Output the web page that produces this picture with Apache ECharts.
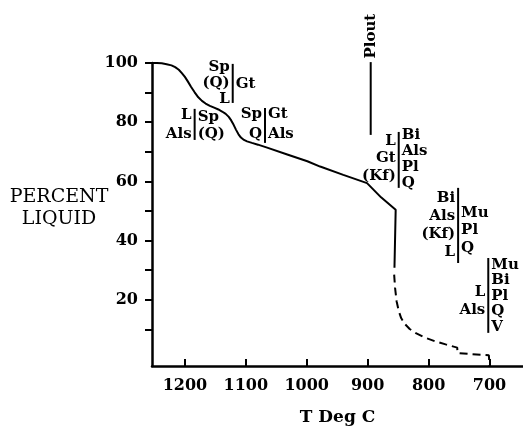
<!DOCTYPE html>
<html><head><meta charset="utf-8">
<script src="https://cdn.jsdelivr.net/npm/echarts@6/dist/echarts.min.js"></script>
<style>html,body{margin:0;padding:0;background:#fff}#c{width:523px;height:427px}</style>
</head><body><div id="c"></div>
<script>
// ---- data ----
const xTicks = [1200, 1100, 1000, 900, 800, 700];
const yLabelTicks = [20, 40, 60, 80, 100];
const yMinorTicks = [10, 20, 30, 40, 50, 60, 70, 80, 90, 100];
// solid part of the melting curve [T, percent liquid]
const solidCurve = [
  [1254,100],[1246,100],[1238,99.9],[1230,99.6],[1222,99.2],[1216,98.6],[1210,97.7],[1205,96.6],
  [1200,95.3],[1195,93.7],[1190,92.0],[1184,90.1],[1178,88.4],[1172,87.2],[1166,86.3],[1159,85.5],
  [1152,84.9],[1145,84.3],[1139,83.6],[1133,82.8],[1128,81.8],[1124,80.6],[1120,79.1],[1116,77.4],
  [1112,75.9],[1108,74.8],[1103,74.0],[1098,73.5],[1090,73.0],[1080,72.4],[1065,71.4],
  [1032,69.1],[999,66.8],[978,65.0],[940,62.2],[901,59.4],[878,54.6],[854,50.4],[856,30.8]
];
// dashed (extrapolated) part
const dashedCurve = [
  [856.5,28.5],[855,24],[852.5,19.5],[849,16.2],[845,13.8],[839,11.8],[831,10.1],[820,8.6],
  [806,7.2],[790,6.0],[772,4.9],[753,3.8],[752.5,2.0],[730,1.6],[701,1.2],[700,-2.4]
];
const ploutLine = [[895,100.3],[895,75.7]];
// assemblage annotation bars: T, top %, bottom %
const barT      = [1121.5, 1184, 1068.5, 849, 751.5, 702];
const barTop    = [99.7, 84.5, 84.8, 76.7, 57.8, 34.1];
const barBottom = [86.5, 74.0, 73.0, 57.8, 32.4, 8.8];
const leftLabels  = [['Sp','(Q)','L'], ['L','Als'], ['Sp','Q'], ['L','Gt','(Kf)'], ['Bi','Als','(Kf)','L'], ['L','Als']];
const rightLabels = [['Gt'], ['Sp','(Q)'], ['Gt','Als'], ['Bi','Als','Pl','Q'], ['Mu','Pl','Q'], ['Mu','Bi','Pl','Q','V']];

// ---- layout (px) ----
const leftOffset  = [3, 6, 6, 9, 10, 34];
const leftLH      = [16, 19, 20, 17.5, 18, 18];
const rightOffset = [20, 8, 6, 3, 25, 7];
const rightLH     = [16, 17, 20, 16, 17.5, 15.5];

const FONT = 'DejaVu Serif';
const chart = echarts.init(document.getElementById('c'), null, {renderer: 'canvas'});

function annoRender(params, api) {
  const i = params.dataIndex;
  const top = api.coord([api.value(0), api.value(1)]);
  const bot = api.coord([api.value(0), api.value(2)]);
  const x = top[0];
  const children = [{
    type: 'line',
    shape: {x1: x, y1: top[1], x2: x, y2: bot[1]},
    style: {stroke: '#000', lineWidth: 2}
  }];
  leftLabels[i].forEach((t, k) => {
    children.push({type: 'text', style: {
      text: t, x: x - 3, y: top[1] + leftOffset[i] + k * leftLH[i],
      align: 'right', verticalAlign: 'middle',
      font: 'bold 15px "' + FONT + '"', fill: '#000'}});
  });
  rightLabels[i].forEach((t, k) => {
    children.push({type: 'text', style: {
      text: t, x: x + 3, y: top[1] + rightOffset[i] + k * rightLH[i],
      align: 'left', verticalAlign: 'middle',
      font: 'bold 15px "' + FONT + '"', fill: '#000'}});
  });
  return {type: 'group', children};
}

function ploutRender(params, api) {
  const p = api.coord([api.value(0), api.value(1)]);
  return {type: 'text', rotation: Math.PI / 2, x: p[0], y: p[1] - 26,
    style: {text: 'Plout', align: 'center', verticalAlign: 'middle',
      font: 'bold 15px "' + FONT + '"', fill: '#000'}};
}

chart.setOption({
  animation: false,
  backgroundColor: '#fff',
  grid: {left: 152, right: 0, top: 63, bottom: 61, containLabel: false, outerBoundsMode: 'none'},
  xAxis: {
    type: 'value', inverse: true, min: 645, max: 1254,
    name: 'T Deg C', nameLocation: 'middle', nameGap: 43,
    nameTextStyle: {fontFamily: FONT, fontWeight: 'bold', fontSize: 17, color: '#000'},
    axisLine: {show: true, onZero: false, lineStyle: {color: '#000', width: 2.5}},
    axisTick: {show: true, inside: true, length: 7, customValues: xTicks, lineStyle: {color: '#000', width: 2}},
    axisLabel: {customValues: xTicks, margin: 12, formatter: v => String(v),
      fontFamily: FONT, fontWeight: 'bold', fontSize: 16, color: '#000'},
    splitLine: {show: false}
  },
  yAxis: {
    type: 'value', min: -2.4, max: 100,
    axisLine: {show: true, onZero: false, lineStyle: {color: '#000', width: 2.5}},
    axisTick: {show: true, inside: false, length: 7, customValues: yMinorTicks, lineStyle: {color: '#000', width: 2}},
    axisLabel: {customValues: yLabelTicks, margin: 14, formatter: v => String(v),
      fontFamily: FONT, fontWeight: 'bold', fontSize: 16, color: '#000'},
    splitLine: {show: false}
  },
  graphic: [{
    type: 'text', x: 59, y: 186,
    style: {text: 'PERCENT\nLIQUID', align: 'center', verticalAlign: 'top', lineHeight: 22,
      font: '19px "' + FONT + '"', fill: '#000'}
  }],
  series: [
    {type: 'line', data: solidCurve, symbol: 'none', smooth: false, clip: false,
      lineStyle: {color: '#000', width: 2}},
    {type: 'line', data: dashedCurve, symbol: 'none', smooth: false, clip: false,
      lineStyle: {color: '#000', width: 2, type: [8, 5]}},
    {type: 'line', data: ploutLine, symbol: 'none', clip: false,
      lineStyle: {color: '#000', width: 2}},
    {type: 'custom', renderItem: ploutRender, data: [ploutLine[0]], clip: false, silent: true},
    {type: 'custom', renderItem: annoRender, clip: false, silent: true,
      data: barT.map((t, i) => [t, barTop[i], barBottom[i]])}
  ]
});
</script></body></html>
